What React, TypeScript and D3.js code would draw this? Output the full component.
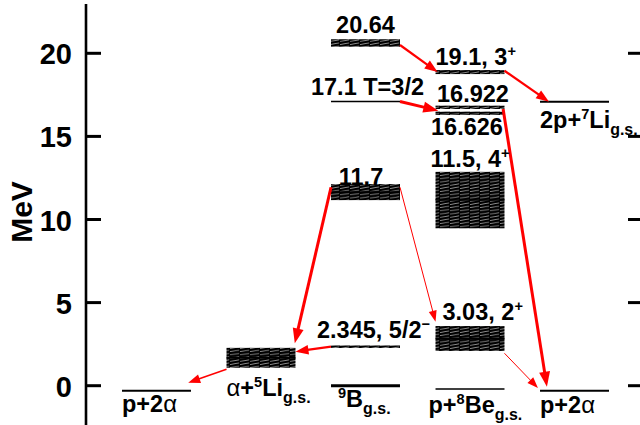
import React from "react";
import * as d3 from "d3";

// ---------- data ----------
const COLUMNS = ["pAlphaL", "alpha5Li", "B9", "p8Be", "final"];
const Y_TICKS = [0, 5, 10, 15, 20];

// sharp levels (MeV, relative to 9B g.s.)
const SHARP_LEVELS = [
  { col: "pAlphaL", e: -0.3, kind: "gs" },
  { col: "B9", e: 0, kind: "main" },
  { col: "B9", e: 17.1, kind: "thin" },
  { col: "p8Be", e: -0.2, kind: "thin" },
  { col: "final", e: 17.08, kind: "gs" },
  { col: "final", e: -0.3, kind: "gs" },
];

// broad (hatched) levels: centre and width in MeV
const BROAD_LEVELS = [
  { col: "alpha5Li", e: 1.68, w: 1.2, mid: true },
  { col: "B9", e: 2.35, w: 0.14, mid: false },
  { col: "B9", e: 11.65, w: 0.97, mid: true },
  { col: "B9", e: 20.62, w: 0.45, mid: false },
  { col: "p8Be", e: 2.84, w: 1.5, mid: true },
  { col: "p8Be", e: 11.17, w: 3.4, mid: true },
  { col: "p8Be", e: 16.39, w: 0.2, mid: false },
  { col: "p8Be", e: 16.75, w: 0.2, mid: false },
  { col: "p8Be", e: 18.87, w: 0.24, mid: false },
];

// decay arrows: column, fraction across the column, energy
const ARROWS = [
  { from: { col: "B9", f: 1, e: 20.5 }, to: { col: "p8Be", f: 0.03, e: 18.87 }, strength: "medium" },
  { from: { col: "p8Be", f: 1, e: 18.95 }, to: { col: "final", f: 0.13, e: 17.08 }, strength: "medium" },
  { from: { col: "B9", f: 1, e: 17.1 }, to: { col: "p8Be", f: 0.04, e: 16.55 }, strength: "strong" },
  { from: { col: "p8Be", f: 0.98, e: 16.65 }, to: { col: "final", f: 0.1, e: -0.06 }, strength: "strong" },
  { from: { col: "B9", f: 0, e: 11.94 }, to: { col: "alpha5Li", f: 0.99, e: 2.55 }, strength: "strong" },
  { from: { col: "B9", f: 1, e: 11.94 }, to: { col: "p8Be", f: 0, e: 3.85 }, strength: "weak" },
  { from: { col: "B9", f: 0, e: 2.35 }, to: { col: "alpha5Li", f: 1, e: 2.05 }, strength: "medium" },
  { from: { col: "alpha5Li", f: 0, e: 0.99 }, to: { col: "pAlphaL", f: 0.96, e: 0.18 }, strength: "thinmed" },
  { from: { col: "p8Be", f: 1, e: 1.95 }, to: { col: "final", f: -0.03, e: -0.14 }, strength: "weak" },
];

// labels: segments n=normal, sup, sub, g=greek (light)
type Seg = { t: string; k?: "sup" | "sub" | "g" };
const LABELS: { id: string; segs: Seg[] }[] = [
  { id: "l2064", segs: [{ t: "20.64" }] },
  { id: "l191", segs: [{ t: "19.1, 3" }, { t: "+", k: "sup" }] },
  { id: "l171", segs: [{ t: "17.1 T=3/2" }] },
  { id: "l16922", segs: [{ t: "16.922" }] },
  { id: "l16626", segs: [{ t: "16.626" }] },
  { id: "l7li", segs: [{ t: "2p+" }, { t: "7", k: "sup" }, { t: "Li" }, { t: "g.s.", k: "sub" }] },
  { id: "l115", segs: [{ t: "11.5, 4" }, { t: "+", k: "sup" }] },
  { id: "l117", segs: [{ t: "11.7" }] },
  { id: "l303", segs: [{ t: "3.03, 2" }, { t: "+", k: "sup" }] },
  { id: "l2345", segs: [{ t: "2.345, 5/2" }, { t: "\u2212", k: "sup" }] },
  { id: "l5li", segs: [{ t: "\u03b1", k: "g" }, { t: "+" }, { t: "5", k: "sup" }, { t: "Li" }, { t: "g.s.", k: "sub" }] },
  { id: "lp2aL", segs: [{ t: "p+2" }, { t: "\u03b1", k: "g" }] },
  { id: "l9b", segs: [{ t: "9", k: "sup" }, { t: "B" }, { t: "g.s.", k: "sub" }] },
  { id: "l8be", segs: [{ t: "p+" }, { t: "8", k: "sup" }, { t: "Be" }, { t: "g.s.", k: "sub" }] },
  { id: "lp2aR", segs: [{ t: "p+2" }, { t: "\u03b1", k: "g" }] },
];

// ---------- layout ----------
const W = 640;
const H = 425;
const FONT = "Arial, 'Liberation Sans', Helvetica, sans-serif";
const RED = "#ff0000";

function Rich({ x, y, segs, anchor = "start", size = 23.5 }: { x: number; y: number; segs: Seg[]; anchor?: string; size?: number }) {
  let cur = 0;
  const parts = segs.map((s, i) => {
    let target = 0;
    let fs = size;
    let fw: any = "bold";
    if (s.k === "sup") { target = -size * 0.38; fs = size * 0.62; }
    if (s.k === "sub") { target = size * 0.3; fs = size * 0.68; }
    if (s.k === "g") { fw = "normal"; fs = size * 1.02; }
    const dy = target - cur;
    cur = target;
    return (
      <tspan key={i} dy={dy} fontSize={fs} fontWeight={fw}>
        {s.t}
      </tspan>
    );
  });
  return (
    <text x={x} y={y} textAnchor={anchor as any} fontFamily={FONT} fontWeight="bold" fontSize={size} fill="#000">
      {parts}
    </text>
  );
}

export default function App() {
  const y = d3.scaleLinear().domain([0, 20]).range([385.7, 53.3]);
  const x = d3.scaleBand<string>().domain(COLUMNS).range([122, 609]).paddingInner(0.34).paddingOuter(0);
  const bw = x.bandwidth();
  const px = (col: string, f: number) => (x(col) as number) + f * bw;
  const cx = (col: string) => px(col, 0.5);

  const lab = (id: string) => LABELS.find((l) => l.id === id)!.segs;

  const arrowStyle: Record<string, { w: number; len: number; hw: number }> = {
    strong: { w: 3, len: 15, hw: 5.5 },
    medium: { w: 2.2, len: 13, hw: 4.8 },
    thinmed: { w: 1.5, len: 12, hw: 4.5 },
    weak: { w: 1, len: 11, hw: 4 },
  };

  const sharpWidth: Record<string, number> = { main: 3, gs: 2, thin: 1.5 };

  return (
    <svg width={W} height={H} style={{ position: "absolute", left: 0, top: 0, background: "#fff" }}>
      <defs>
        <pattern id="hatch" patternUnits="userSpaceOnUse" width="10" height="3.2">
          <rect width="10" height="3.2" fill="#000" />
          <path d="M0,2.9 L10,1.3" stroke="#fff" strokeWidth="0.55" />
          <path d="M9.3,0 L9.7,3.2" stroke="#000" strokeWidth="0.9" />
        </pattern>
      </defs>
      <rect width={W} height={H} fill="#fff" />

      {/* left axis */}
      <line x1={86} x2={86} y1={4} y2={H} stroke="#000" strokeWidth={2.6} />
      {Y_TICKS.map((t) => (
        <g key={t}>
          <line x1={86} x2={101} y1={y(t)} y2={y(t)} stroke="#000" strokeWidth={3} />
          <text x={72} y={y(t) + 11} textAnchor="end" fontFamily={FONT} fontWeight="bold" fontSize={29}>
            {t}
          </text>
          <line x1={628} x2={641} y1={y(t)} y2={y(t)} stroke="#000" strokeWidth={3} />
        </g>
      ))}
      <text
        transform={`translate(31.5,212) rotate(-90)`}
        textAnchor="middle"
        fontFamily={FONT}
        fontWeight="bold"
        fontSize={30}
      >
        MeV
      </text>

      {/* broad levels */}
      {BROAD_LEVELS.map((b, i) => {
        const top = y(b.e + b.w / 2);
        const bot = y(b.e - b.w / 2);
        const h = Math.max(bot - top, 2.5);
        return (
          <g key={i}>
            <rect x={x(b.col)} y={top} width={bw} height={h} fill="url(#hatch)" />
            {b.mid && <line x1={x(b.col)} x2={(x(b.col) as number) + bw} y1={y(b.e)} y2={y(b.e)} stroke="#000" strokeWidth={1.5} />}
          </g>
        );
      })}

      {/* sharp levels */}
      {SHARP_LEVELS.map((s, i) => (
        <line key={i} x1={x(s.col)} x2={(x(s.col) as number) + bw} y1={y(s.e)} y2={y(s.e)} stroke="#000" strokeWidth={sharpWidth[s.kind]} />
      ))}

      {/* arrows */}
      {ARROWS.map((a, i) => {
        const st = arrowStyle[a.strength];
        const x1 = px(a.from.col, a.from.f);
        const y1 = y(a.from.e);
        const x2 = px(a.to.col, a.to.f);
        const y2 = y(a.to.e);
        const ang = Math.atan2(y2 - y1, x2 - x1);
        const bx = x2 - st.len * Math.cos(ang);
        const by = y2 - st.len * Math.sin(ang);
        const nx = -Math.sin(ang) * st.hw;
        const ny = Math.cos(ang) * st.hw;
        const pts = [
          [x2, y2],
          [bx + nx, by + ny],
          [bx - nx, by - ny],
        ];
        return (
          <g key={i}>
            <line x1={x1} y1={y1} x2={bx + Math.cos(ang)} y2={by + Math.sin(ang)} stroke={RED} strokeWidth={st.w} />
            <polygon points={pts.map((p) => p.join(",")).join(" ")} fill={RED} />
          </g>
        );
      })}

      {/* labels */}
      <Rich x={cx("B9")} y={y(20.62 + 0.225) - 6} segs={lab("l2064")} anchor="middle" />
      <Rich x={px("p8Be", 0)} y={y(18.87) - 7} segs={lab("l191")} />
      <Rich x={cx("B9") + 2} y={y(17.1) - 6} segs={lab("l171")} anchor="middle" />
      <Rich x={cx("p8Be") + 3} y={y(16.75) - 5.5} segs={lab("l16922")} anchor="middle" />
      <Rich x={cx("p8Be") - 3} y={y(16.39) + 22} segs={lab("l16626")} anchor="middle" />
      <Rich x={px("final", 0)} y={y(17.08) + 26.5} segs={lab("l7li")} />
      <Rich x={px("p8Be", 0) - 5} y={y(11.17 + 1.7) - 4.5} segs={lab("l115")} />
      <Rich x={cx("B9") - 4.5} y={y(11.65 + 0.485) + 1} segs={lab("l117")} anchor="middle" />
      <Rich x={px("p8Be", 0) + 7} y={y(2.84 + 0.75) - 6} segs={lab("l303")} />
      <Rich x={px("B9", 0) - 14} y={y(2.35) - 8.5} segs={lab("l2345")} />
      <Rich x={px("alpha5Li", 0)} y={y(1.68 - 0.6) + 28} segs={lab("l5li")} />
      <Rich x={px("pAlphaL", 0)} y={y(-0.3) + 21} segs={lab("lp2aL")} />
      <Rich x={px("B9", 0) + 7} y={y(0) + 21.5} segs={lab("l9b")} />
      <Rich x={px("p8Be", 0) - 7} y={y(-0.2) + 24} segs={lab("l8be")} />
      <Rich x={px("final", 0)} y={y(-0.3) + 22.5} segs={lab("lp2aR")} />
    </svg>
  );
}
